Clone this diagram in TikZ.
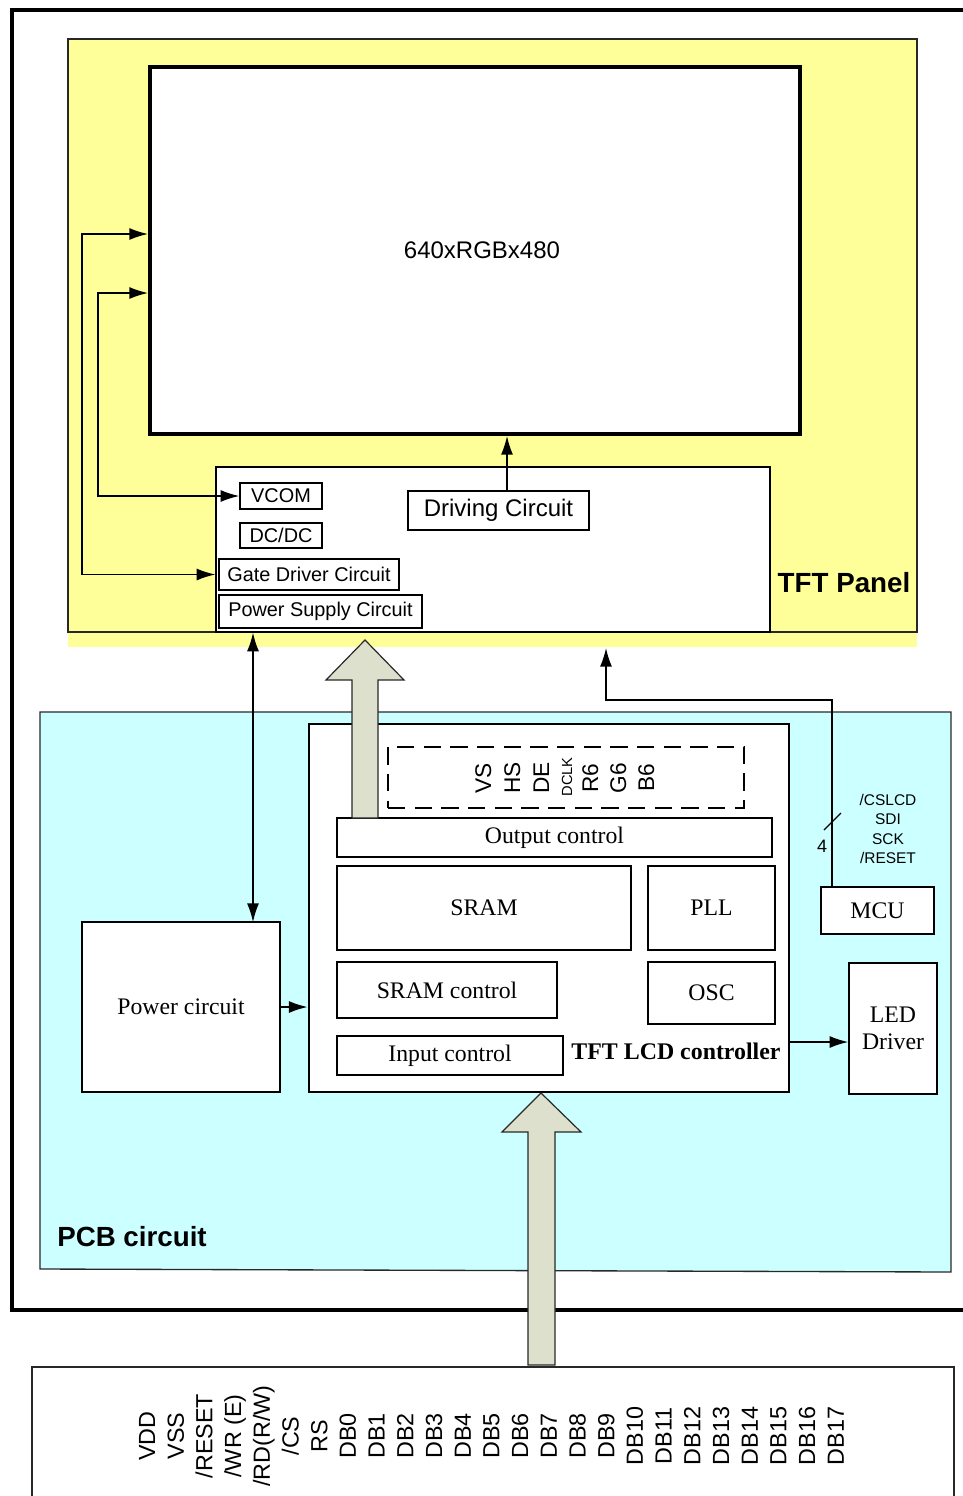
\documentclass[tikz,border=0pt]{standalone}
\usepackage{fontspec}
\setmainfont{Liberation Serif}
\setsansfont{Liberation Sans}
\usetikzlibrary{arrows.meta,fit}
\definecolor{panelY}{RGB}{255,255,153}
\definecolor{pcbC}{RGB}{204,255,255}
\definecolor{bigArr}{RGB}{221,224,204}
\definecolor{edge}{RGB}{40,40,40}
\begin{document}
\begin{tikzpicture}[x=0.75pt,y=-0.75pt,
  box/.style={draw, line width=1.1pt, fill=white, inner sep=0pt},
  sfS/.style={font=\sffamily\fontsize{14.9}{16}\selectfont},
  sfM/.style={font=\sffamily\fontsize{18}{21}\selectfont},
  rmM/.style={font=\rmfamily\fontsize{17.8}{20.5}\selectfont},
  bigLbl/.style={font=\sffamily\bfseries\fontsize{20.8}{24}\selectfont},
  arr/.style={-{Latex[length=14pt,width=9pt]}, line width=1.1pt},
  darr/.style={{Latex[length=14pt,width=9pt]}-{Latex[length=14pt,width=9pt]}, line width=1.1pt},
  blockarrow/.style={draw=edge, line width=0.9pt, fill=bigArr},
  sig/.style={rotate=90, anchor=mid, font=\sffamily\fontsize{17}{19}\selectfont},
  pin/.style={rotate=90, anchor=mid, font=\sffamily\fontsize{17.5}{19}\selectfont}
]
\useasboundingbox (0,0) rectangle (963,1496);

% outer frame
\draw[line width=3pt] (963,10) -- (12,10) -- (12,1310) -- (963,1310);

% TFT panel region
\fill[panelY] (68,632) rectangle (917,647);
\draw[edge, line width=1pt, fill=panelY] (68,39) rectangle (917,632);
\node[bigLbl] (panellbl) at (844,583) {TFT Panel};

% display
\node[draw, line width=3pt, fill=white, inner sep=0pt, fit={(150,67)(800,434)}] (display) {};
\node[font=\sffamily\fontsize{18}{21}\selectfont] (res) at (482,250) {640xRGBx480};

% driving block
\node[box, line width=1pt, fit={(216,467)(770,632)}] (drvblock) {};
\node[box, fit={(240,483)(322,509)}] (vcom) {};
\node[sfS] at (vcom) {VCOM};
\node[box, fit={(240,523)(322,548)}] (dcdc) {};
\node[sfS] at (dcdc) {DC/DC};
\node[box, fit={(219,559)(399,590)}] (gate) {};
\node[sfS] at (gate) {Gate Driver Circuit};
\node[box, fit={(219,595)(422,628)}] (psc) {};
\node[sfS] at (psc) {Power Supply Circuit};
\node[box, fit={(408,491)(589,530)}] (drive) {};
\node[sfM] at (drive) {Driving Circuit};

\coordinate (dtop) at (507,491);
\draw[arr] (dtop) -- (dtop |- display.south);

\coordinate (g1) at (82,234);
\coordinate (v1) at (98,293);
\draw[darr] (display.west |- g1) -- (g1) |- (gate.west -| drvblock.west);
\draw[darr] (display.west |- v1) -- (v1) |- (vcom.west);

% PCB region
\draw[edge, line width=1pt, fill=pcbC] (40,712) -- (951,712) -- (951,1272) -- (40,1269) -- cycle;
\node[bigLbl] (pcblbl) at (132,1237) {PCB circuit};

% controller
\node[draw, line width=2.2pt, fill=white, inner sep=0pt, fit={(309,724)(789,1092)}] (ctrl) {};
\node[draw, line width=1.1pt, dash pattern=on 13pt off 7pt, inner sep=0pt, fit={(388,747)(744,808)}] (dbox) {};
\node[sig] (sVS) at (488,778) {VS};
\node[sig] (sHS) at (517,778) {HS};
\node[sig] (sDE) at (546,778) {DE};
\node[sig, font=\sffamily\fontsize{11}{13}\selectfont] (sDCLK) at (569,777) {DCLK};
\node[sig] (sR6) at (595,778) {R6};
\node[sig] (sG6) at (623,778) {G6};
\node[sig] (sB6) at (651,778) {B6};

\node[box, fit={(337,818)(772,857)}] (outc) {};
\node[rmM] at (outc) {Output control};
\node[box, fit={(337,866)(631,950)}] (sram) {};
\node[rmM] at (sram) {SRAM};
\node[box, fit={(648,866)(775,950)}] (pll) {};
\node[rmM] at (pll) {PLL};
\node[box, fit={(337,962)(557,1018)}] (sramc) {};
\node[rmM] at (sramc) {SRAM control};
\node[box, fit={(648,962)(775,1024)}] (osc) {};
\node[rmM] at (osc) {OSC};
\node[box, fit={(337,1036)(563,1075)}] (inc) {};
\node[rmM] at (inc) {Input control};
\node[font=\rmfamily\bfseries\fontsize{17.9}{20.5}\selectfont] (ctrllbl) at (676,1051) {TFT LCD controller};

% power circuit
\node[box, fit={(82,922)(280,1092)}] (pwr) {};
\node[rmM] at (pwr) {Power circuit};
\draw[arr] (pwr.east) -- (ctrl.west |- pwr.east);
\coordinate (p1) at (253,922);
\draw[darr] (p1 |- drvblock.south) -- (p1);

% MCU
\node[box, fit={(821,887)(934,934)}] (mcu) {};
\node[rmM] at (mcu) {MCU};
\coordinate (m1) at (832,887);
\coordinate (m2) at (606,700);
\draw[arr] (m1) |- (m2) -- (606,648);
\draw[line width=1pt] (824,830) -- (841,813);
\node[font=\sffamily\fontsize{13.5}{15}\selectfont] (four) at (822,846) {4};
\node[align=center, font=\sffamily\fontsize{11.6}{14.5}\selectfont] (mcusig) at (888,829) {/CSLCD\\SDI\\SCK\\/RESET};

% LED driver
\node[box, fit={(849,963)(937,1094)}] (led) {};
\node[rmM, align=center] at (led) {LED\\Driver};
\coordinate (l1) at (789,1042);
\draw[arr] (l1) -- (l1 -| led.west);

% block arrows
\draw[blockarrow] (352,818) -- (352,680) -- (326,680) -- (365,640) -- (404,680) -- (378,680) -- (378,818) -- cycle;
\draw[blockarrow] (528,1365) -- (528,1132) -- (502,1132) -- (541,1093) -- (581,1132) -- (555,1132) -- (555,1365) -- cycle;

% bottom connector box
\draw[edge, line width=1pt] (32,1500) -- (32,1367) -- (954,1367) -- (954,1500);
\foreach \t [count=\i from 0] in {VDD,VSS,/RESET,/WR (E),/RD(R/W),/CS,RS,DB0,DB1,DB2,DB3,DB4,DB5,DB6,DB7,DB8,DB9,DB10,DB11,DB12,DB13,DB14,DB15,DB16,DB17}
  \node[pin] (pin\i) at ({152+28.7*\i},1436) {\t};
\end{tikzpicture}
\end{document}
